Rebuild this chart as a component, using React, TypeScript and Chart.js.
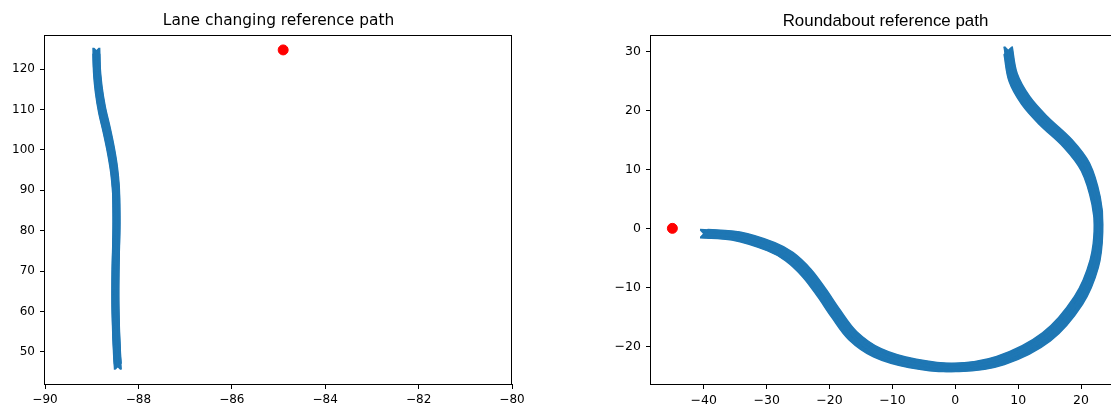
import { useEffect, useRef } from "react";
import { Chart, registerables } from "chart.js";

Chart.register(...registerables);

// ---- Lane changing panel ----
const laneTitle = "Lane changing reference path";
const laneY = [124.6, 120, 115, 110, 105, 100, 95, 90, 85, 80, 70, 60, 50, 46.3];
const laneX = [-88.9, -88.89, -88.85, -88.78, -88.68, -88.59, -88.52, -88.48, -88.47, -88.47, -88.49, -88.49, -88.46, -88.44];
const laneTargetX = [-84.9];
const laneTargetY = [124.8];
const laneXTicks = [-90, -88, -86, -84, -82, -80];
const laneYTicks = [50, 60, 70, 80, 90, 100, 110, 120];

// ---- Roundabout panel ----
const roundTitle = "Roundabout reference path";
const roundX = [-40.0, -34.9, -29.3, -26.4, -23.6, -21.2, -19.1, -16.3, -12.4, -6.8, 0, 7.2, 14.5, 19.6, 22.1, 22.8, 22.4, 20.7, 17.9, 14.0, 11.2, 9.2, 8.4];
const roundY = [-0.9, -1.3, -3.1, -4.8, -7.6, -11.0, -14.3, -18.2, -21.1, -22.9, -23.6, -22.4, -18.4, -12.2, -6.0, 0, 4.7, 10.4, 14.4, 18.3, 21.7, 25.6, 30.2];
const roundTargetX = [-45];
const roundTargetY = [0];
const roundXTicks = [-40, -30, -20, -10, 0, 10, 20];
const roundYTicks = [-20, -10, 0, 10, 20, 30];

const PATH_BLUE = "#1f77b4";
const TARGET_RED = "#ff0000";

type PanelSpec = {
  title: string;
  titleFont: string;
  titleBaseline: number;
  pathX: number[];
  pathY: number[];
  targetX: number[];
  targetY: number[];
  xTicks: number[];
  yTicks: number[];
  xMin: number;
  xMax: number;
  yMin: number;
  yMax: number;
  canvasW: number;
  left: number;
  axisW: number;
  padRight: number;
  tickSize: number;
  markerHalf: number;
  strokeW: number;
};

const fmt = (v: number) => (v < 0 ? "\u2212" + Math.abs(v) : String(v));

// The path is plotted with "x" markers packed along it; the line element is
// stroked again shifted along both diagonals of the marker, which sweeps the
// marker's shape along the curve.
const sweepPlugin = {
  id: "markerSweep",
  beforeDatasetDraw(chart: any, args: any, opts: any) {
    if (args.index !== 0) return;
    const el = args.meta.dataset;
    const { ctx } = chart;
    const steps = opts.steps;
    for (let k = -steps; k <= steps; k++) {
      const d = (opts.half * k) / steps;
      const shifts = [
        [d, d],
        [d, -d],
      ];
      for (const [dx, dy] of shifts) {
        ctx.save();
        ctx.translate(dx, dy);
        el.draw(ctx, chart.chartArea);
        ctx.restore();
      }
    }
  },
};

const framePlugin = {
  id: "frameAndTitle",
  afterDraw(chart: any, _args: any, opts: any) {
    const { ctx, chartArea } = chart;
    const { left, right, top, bottom } = chartArea;
    ctx.save();
    ctx.strokeStyle = "#000";
    ctx.lineWidth = 1;
    ctx.strokeRect(Math.round(left) - 0.5, Math.round(top) + 0.5, Math.round(right - left), Math.round(bottom - top));
    ctx.fillStyle = "#000";
    ctx.font = opts.font;
    ctx.textAlign = "center";
    ctx.textBaseline = "alphabetic";
    ctx.fillText(opts.text, (left + right) / 2, opts.baseline);
    ctx.restore();
  },
};

function makeConfig(p: PanelSpec): any {
  const path = p.pathX.map((x, i) => ({ x, y: p.pathY[i] }));
  const target = p.targetX.map((x, i) => ({ x, y: p.targetY[i] }));
  const tickFont = { family: "DejaVu Sans", size: p.tickSize };
  const grid = {
    display: true,
    drawOnChartArea: false,
    drawTicks: true,
    tickLength: 5,
    tickWidth: 1,
    tickColor: "#000",
  };
  return {
    type: "scatter",
    data: {
      datasets: [
        {
          data: path,
          showLine: true,
          borderColor: PATH_BLUE,
          backgroundColor: PATH_BLUE,
          borderWidth: p.strokeW,
          borderCapStyle: "butt",
          borderJoinStyle: "round",
          tension: 0.35,
          pointRadius: 0,
          clip: false,
        },
        {
          data: target,
          pointRadius: 5,
          pointBorderWidth: 1,
          pointBackgroundColor: TARGET_RED,
          pointBorderColor: TARGET_RED,
          clip: false,
        },
      ],
    },
    options: {
      responsive: false,
      maintainAspectRatio: false,
      devicePixelRatio: 1,
      animation: false,
      events: [],
      layout: { padding: { top: 35, left: 0, right: p.padRight, bottom: 0 } },
      plugins: {
        legend: { display: false },
        tooltip: { enabled: false },
        title: { display: false },
        frameAndTitle: { text: p.title, font: p.titleFont, baseline: p.titleBaseline },
        markerSweep: { half: p.markerHalf, steps: 8 },
      },
      scales: {
        x: {
          type: "linear",
          min: p.xMin,
          max: p.xMax,
          afterBuildTicks: (s: any) => {
            s.ticks = p.xTicks.map((v) => ({ value: v }));
          },
          afterFit: (s: any) => {
            s.height = 24;
          },
          ticks: { autoSkip: false, maxRotation: 0, padding: 4, color: "#000", font: tickFont, callback: (v: number) => fmt(v) },
          grid,
          border: { display: false },
        },
        y: {
          type: "linear",
          min: p.yMin,
          max: p.yMax,
          afterBuildTicks: (s: any) => {
            s.ticks = p.yTicks.map((v) => ({ value: v }));
          },
          afterFit: (s: any) => {
            s.width = p.axisW;
          },
          ticks: { autoSkip: false, padding: 5, color: "#000", font: tickFont, callback: (v: number) => fmt(v) },
          grid,
          border: { display: false },
        },
      },
    },
    plugins: [sweepPlugin, framePlugin],
  };
}

const lanePanel: PanelSpec = {
  title: laneTitle,
  titleFont: "15.4px 'DejaVu Sans'",
  titleBaseline: 25,
  pathX: laneX,
  pathY: laneY,
  targetX: laneTargetX,
  targetY: laneTargetY,
  xTicks: laneXTicks,
  yTicks: laneYTicks,
  xMin: -90,
  xMax: -80,
  yMin: 42.0,
  yMax: 128.5,
  canvasW: 556,
  left: 0,
  axisW: 45,
  padRight: 44,
  tickSize: 12,
  markerHalf: 3,
  strokeW: 2,
};

const roundPanel: PanelSpec = {
  title: roundTitle,
  titleFont: "16.9px 'Liberation Sans'",
  titleBaseline: 26,
  pathX: roundX,
  pathY: roundY,
  targetX: roundTargetX,
  targetY: roundTargetY,
  xTicks: roundXTicks,
  yTicks: roundYTicks,
  xMin: -48.4,
  xMax: 26.2,
  yMin: -26.4,
  yMax: 32.8,
  canvasW: 620,
  left: 556,
  axisW: 95,
  padRight: 56,
  tickSize: 12.5,
  markerHalf: 3.8,
  strokeW: 2,
};

function Panel({ spec }: { spec: PanelSpec }) {
  const ref = useRef<HTMLCanvasElement | null>(null);
  useEffect(() => {
    const chart = new Chart(ref.current as HTMLCanvasElement, makeConfig(spec));
    return () => chart.destroy();
  }, [spec]);
  return (
    <canvas
      ref={ref}
      width={spec.canvasW}
      height={408}
      style={{ position: "absolute", left: spec.left, top: 0, width: spec.canvasW, height: 408 }}
    />
  );
}

export default function App() {
  return (
    <div
      style={{
        position: "absolute",
        left: 0,
        top: 0,
        width: 1111,
        height: 408,
        overflow: "hidden",
        background: "#ffffff",
      }}
    >
      <Panel spec={lanePanel} />
      <Panel spec={roundPanel} />
    </div>
  );
}
